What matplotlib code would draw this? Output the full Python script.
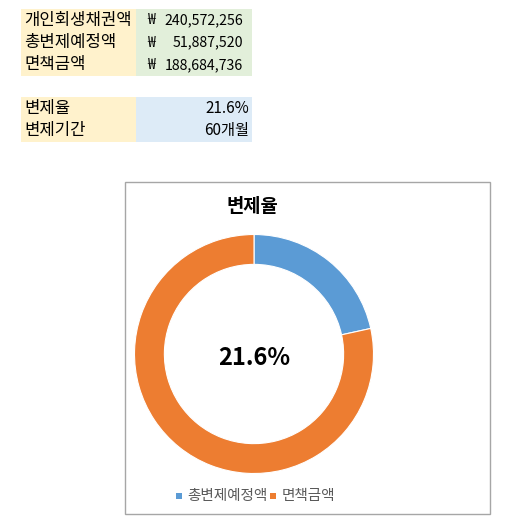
import matplotlib
matplotlib.use("Agg")
import matplotlib.pyplot as plt
from matplotlib.patches import Rectangle

plt.rcParams['font.family'] = ['Noto Sans CJK KR', 'DejaVu Sans']

# ---- data ----
table1_labels = ['개인회생채권액', '총변제예정액', '면책금액']
table1_values = [240572256, 51887520, 188684736]
table2_labels = ['변제율', '변제기간']
table2_values = ['21.6%', '60개월']
pie_labels = ['총변제예정액', '면책금액']
pie_values = [51887520, 188684736]
pie_colors = ['#5B9BD5', '#ED7D31']
chart_title = '변제율'

W, H, DPI = 508, 532, 100
fig = plt.figure(figsize=(W / DPI, H / DPI), dpi=DPI)
fig.patch.set_facecolor('white')

# pixel-coordinate overlay axes
ov = fig.add_axes([0, 0, 1, 1])
ov.set_xlim(0, W)
ov.set_ylim(H, 0)
ov.axis('off')

label_bg = '#FFF2CC'
val_bg1 = '#E2EFDA'
val_bg2 = '#DDEBF7'
x0, x1, x2 = 21, 136, 252
fs_lab = 12
fs_num = 10.2

# table 1
top1, rh1 = 9, 22.4
for i, (lab, val) in enumerate(zip(table1_labels, table1_values)):
    y = top1 + i * rh1
    ov.add_patch(Rectangle((x0, y), x1 - x0, rh1, facecolor=label_bg, edgecolor='none'))
    ov.add_patch(Rectangle((x1, y), x2 - x1, rh1, facecolor=val_bg1, edgecolor='none'))
    cy = y + rh1 / 2
    ov.text(24, cy, lab, fontsize=fs_lab, va='center', ha='left', color='black')
    ov.text(147, cy, '₩', fontsize=fs_num, va='center', ha='left', color='black')
    ov.text(243, cy, f'{val:,}', fontsize=fs_num, va='center', ha='right', color='black')

# table 2
top2, rh2 = 97, 22.5
for i, (lab, val) in enumerate(zip(table2_labels, table2_values)):
    y = top2 + i * rh2
    ov.add_patch(Rectangle((x0, y), x1 - x0, rh2, facecolor=label_bg, edgecolor='none'))
    ov.add_patch(Rectangle((x1, y), x2 - x1, rh2, facecolor=val_bg2, edgecolor='none'))
    cy = y + rh2 / 2
    ov.text(24, cy, lab, fontsize=fs_lab, va='center', ha='left', color='black')
    ov.text(249, cy, val, fontsize=11, va='center', ha='right', color='black')

# chart border
ov.add_patch(Rectangle((124.5, 181.5), 365.5, 332, facecolor='white', edgecolor='#A6A6A6', linewidth=1))
ov.text(252, 207, chart_title, fontsize=13.5, fontweight='bold', ha='center', va='center', color='black')

# donut
cx, cy, r = 254, 354, 119.5
pax = fig.add_axes([(cx - r) / W, (H - cy - r) / H, 2 * r / W, 2 * r / H])
pax.pie(pie_values, colors=pie_colors, startangle=90, counterclock=False, radius=1,
        wedgeprops=dict(width=0.25, edgecolor='white', linewidth=0.8))
pax.set_xlim(-1, 1)
pax.set_ylim(-1, 1)
pax.set_aspect('equal')
pax.axis('off')
pct = pie_values[0] / sum(pie_values) * 100
pax.text(0, -0.03, f'{pct:.1f}%', fontsize=17, fontweight='bold', ha='center', va='center', color='black')

# legend
lx = 176
ly = 496
for lab, col in zip(pie_labels, pie_colors):
    ov.add_patch(Rectangle((lx, ly - 3), 6, 6, facecolor=col, edgecolor='none'))
    t = ov.text(lx + 11, ly, lab, fontsize=10.5, ha='left', va='center', color='#595959')
    fig.canvas.draw()
    bb = t.get_window_extent()
    lx = bb.x1 + 3

fig.savefig('out.png', dpi=DPI, facecolor='white')
